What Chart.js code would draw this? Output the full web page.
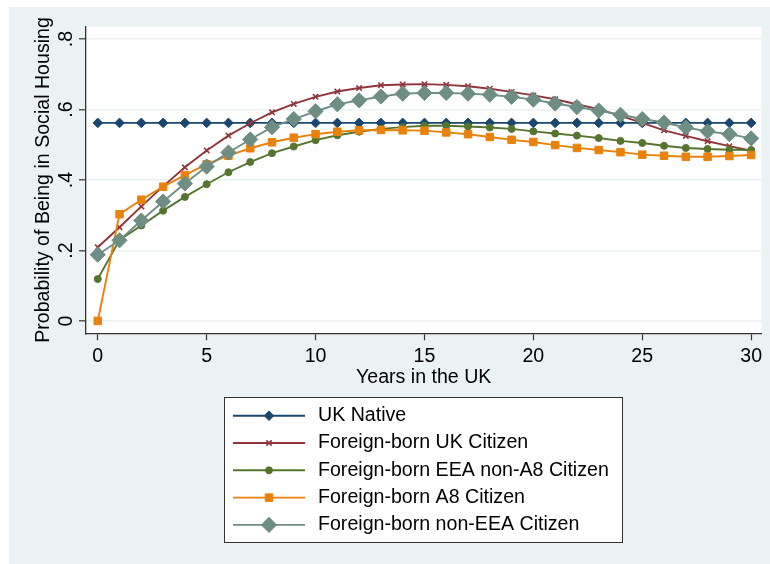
<!DOCTYPE html>
<html><head><meta charset="utf-8">
<script src="https://cdn.jsdelivr.net/npm/chart.js@4.4.1/dist/chart.umd.min.js"></script>
<style>html,body{margin:0;padding:0;background:#fff}canvas{display:block}</style>
</head><body>
<canvas id="c" width="770" height="564"></canvas>
<script>
const years = [0,1,2,3,4,5,6,7,8,9,10,11,12,13,14,15,16,17,18,19,20,21,22,23,24,25,26,27,28,29,30];
const seriesNames = ["UK Native","Foreign-born UK Citizen","Foreign-born EEA non-A8 Citizen","Foreign-born A8 Citizen","Foreign-born non-EEA Citizen"];
const ukNative = [0.562,0.562,0.562,0.562,0.562,0.562,0.562,0.562,0.562,0.562,0.562,0.562,0.562,0.562,0.562,0.562,0.562,0.562,0.562,0.562,0.562,0.562,0.562,0.562,0.562,0.562,0.562,0.562,0.562,0.562,0.562];
const ukCitizen = [0.209,0.266,0.325,0.382,0.436,0.484,0.526,0.561,0.592,0.616,0.636,0.651,0.661,0.669,0.671,0.672,0.670,0.666,0.659,0.650,0.640,0.629,0.615,0.601,0.582,0.562,0.541,0.525,0.510,0.496,0.483];
const eeaNonA8 = [0.119,0.230,0.271,0.313,0.352,0.388,0.422,0.451,0.476,0.495,0.513,0.527,0.537,0.545,0.550,0.554,0.554,0.552,0.549,0.545,0.538,0.532,0.526,0.519,0.511,0.505,0.497,0.491,0.488,0.486,0.485];
const a8Citizen = [0.000,0.303,0.344,0.381,0.414,0.445,0.469,0.490,0.507,0.520,0.530,0.537,0.541,0.542,0.541,0.540,0.535,0.530,0.522,0.514,0.508,0.499,0.491,0.485,0.479,0.472,0.469,0.466,0.466,0.468,0.471];
const nonEEA = [0.188,0.229,0.285,0.339,0.390,0.438,0.478,0.515,0.550,0.573,0.595,0.615,0.626,0.637,0.645,0.647,0.647,0.645,0.642,0.636,0.628,0.617,0.607,0.597,0.585,0.573,0.563,0.549,0.538,0.530,0.518];
const xTickValues = [0,5,10,15,20,25,30];
const yTickValues = [0,0.2,0.4,0.6,0.8];
const yTickLabels = ["0",".2",".4",".6",".8"];
const xTitle = "Years in the UK";
const yTitle = "Probability of Being in Social Housing";

const FONT = '"Liberation Sans", Arial, Helvetica, sans-serif';
const FS = 19.6;
const seriesValues = [ukNative, ukCitizen, eeaNonA8, a8Citizen, nonEEA];
const styles = [
  {color:'#1a476f', ps:'rectRot', r:4.8, bw:1},
  {color:'#90353b', ps:'crossRot', r:3.8, bw:1.6},
  {color:'#55752f', ps:'circle', r:3.5, bw:1},
  {color:'#e8820c', ps:'rect', r:5.3, bw:1},
  {color:'#6e8e84', ps:'rectRot', r:7.6, bw:1}
];

const datasets = seriesValues.map((vals,i)=>({
  label: seriesNames[i],
  data: years.map((x,j)=>({x:x, y:vals[j]})),
  borderColor: styles[i].color,
  backgroundColor: styles[i].color,
  pointBackgroundColor: styles[i].color,
  pointBorderColor: styles[i].color,
  pointStyle: styles[i].ps,
  pointRadius: styles[i].r,
  pointHoverRadius: styles[i].r,
  pointBorderWidth: styles[i].bw,
  borderWidth: 1.9,
  tension: 0,
  fill: false,
  order: 4 - i
}));

function marker(ctx, st, x, y){
  ctx.save();
  ctx.fillStyle = st.color; ctx.strokeStyle = st.color; ctx.lineWidth = st.bw;
  ctx.beginPath();
  const r = st.r;
  if (st.ps === 'rectRot'){ ctx.moveTo(x, y-r); ctx.lineTo(x+r, y); ctx.lineTo(x, y+r); ctx.lineTo(x-r, y); ctx.closePath(); ctx.fill(); ctx.stroke(); }
  else if (st.ps === 'rect'){ const s = r*Math.SQRT1_2; ctx.rect(x-s, y-s, 2*s, 2*s); ctx.fill(); ctx.stroke(); }
  else if (st.ps === 'circle'){ ctx.arc(x, y, r, 0, Math.PI*2); ctx.fill(); ctx.stroke(); }
  else if (st.ps === 'crossRot'){ const s = r*Math.SQRT1_2; ctx.moveTo(x-s,y-s); ctx.lineTo(x+s,y+s); ctx.moveTo(x+s,y-s); ctx.lineTo(x-s,y+s); ctx.stroke(); }
  ctx.restore();
}

const deco = {
  id: 'deco',
  beforeDraw(chart){
    const ctx = chart.ctx, a = chart.chartArea;
    ctx.save();
    ctx.fillStyle = '#ffffff'; ctx.fillRect(0,0,chart.width,chart.height);
    ctx.fillStyle = '#eaf2f3'; ctx.fillRect(9,7,chart.width-9,chart.height-7);
    ctx.fillStyle = '#ffffff'; ctx.fillRect(a.left,a.top,a.right-a.left,a.bottom-a.top);
    ctx.restore();
  },
  afterDraw(chart){
    const ctx = chart.ctx, ys = chart.scales.y;
    ctx.save();
    ctx.font = FS + 'px ' + FONT; ctx.fillStyle = '#000';
    ctx.textAlign = 'center'; ctx.textBaseline = 'middle';
    yTickValues.forEach((v,i)=>{
      const py = ys.getPixelForValue(v);
      ctx.save(); ctx.translate(67, py); ctx.rotate(-Math.PI/2); ctx.fillText(yTickLabels[i], 0, 0); ctx.restore();
    });
    // legend
    const L = {x:224, y:397, w:398, h:145};
    ctx.fillStyle = '#ffffff'; ctx.fillRect(L.x, L.y, L.w, L.h);
    ctx.strokeStyle = '#333333'; ctx.lineWidth = 1; ctx.strokeRect(L.x+0.5, L.y+0.5, L.w, L.h);
    chart.data.datasets.forEach((ds,i)=>{
      const ry = 415.7 + i*27.3;
      ctx.strokeStyle = ds.borderColor; ctx.lineWidth = ds.borderWidth;
      ctx.beginPath(); ctx.moveTo(233, ry); ctx.lineTo(305, ry); ctx.stroke();
      marker(ctx, styles[i], 269, ry);
      ctx.fillStyle = '#000'; ctx.textAlign = 'left'; ctx.textBaseline = 'middle';
      ctx.font = FS + 'px ' + FONT;
      ctx.fillText(ds.label, 318, ry);
    });
    ctx.restore();
  }
};

new Chart(document.getElementById('c'), {
  type: 'line',
  data: { datasets: datasets },
  options: {
    responsive: false,
    devicePixelRatio: 1,
    animation: false,
    events: [],
    layout: { padding: { left: 0, top: 26.7, right: 8.3, bottom: 173.7 } },
    plugins: { legend: { display: false }, tooltip: { enabled: false } },
    scales: {
      x: {
        type: 'linear',
        min: -0.54, max: 30.47,
        afterBuildTicks: s => { s.ticks = xTickValues.map(v => ({value: v})); },
        afterFit: s => { s.height = 57; s.paddingLeft = 0; s.paddingRight = 0; },
        ticks: { font: { family: FONT, size: FS }, color: '#000', padding: 5, maxRotation: 0, autoSkip: false },
        grid: { drawOnChartArea: false, drawTicks: true, tickLength: 7, tickColor: '#333', tickWidth: 1.2 },
        border: { display: true, color: '#333', width: 1.3 },
        title: { display: true, text: xTitle, font: { family: FONT, size: FS }, color: '#000', padding: { top: 0, bottom: 1.4 } }
      },
      y: {
        type: 'linear',
        min: -0.035, max: 0.835,
        afterBuildTicks: s => { s.ticks = yTickValues.map(v => ({value: v})); },
        afterFit: s => { s.width = 86; s.paddingTop = 0; s.paddingBottom = 0; },
        ticks: { display: false },
        grid: { drawOnChartArea: true, color: '#eaf2f3', lineWidth: 1.6, drawTicks: true, tickLength: 7, tickColor: '#333', tickWidth: 1.2 },
        border: { display: true, color: '#333', width: 1.3 },
        title: { display: true, text: yTitle, font: { family: FONT, size: FS }, color: '#000', padding: { top: 31.4, bottom: 0 } }
      }
    }
  },
  plugins: [deco]
});
</script>
</body></html>
